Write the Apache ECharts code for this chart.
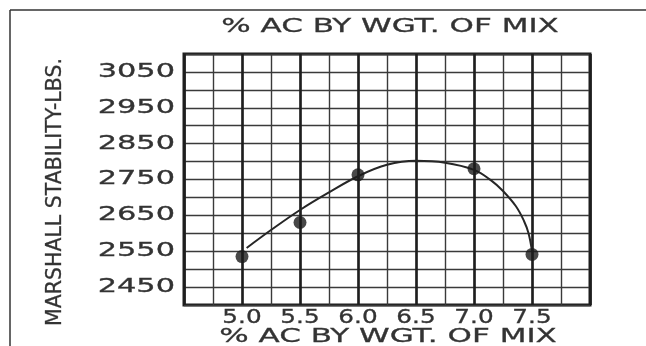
<!DOCTYPE html>
<html><head><meta charset="utf-8">
<script src="https://cdn.jsdelivr.net/npm/echarts@6/dist/echarts.min.js"></script>
<style>html,body{margin:0;padding:0;background:#fff}#c{width:646px;height:346px}</style>
</head><body><div id="c"></div>
<script>
const xTickValues = [5.0, 5.5, 6.0, 6.5, 7.0, 7.5];
const xTickLabels = ['5.0', '5.5', '6.0', '6.5', '7.0', '7.5'];
const yTickValues = [2450, 2550, 2650, 2750, 2850, 2950, 3050];
const yTickLabels = ['2450', '2550', '2650', '2750', '2850', '2950', '3050'];
const pointX = [5.0, 5.5, 6.0, 7.0, 7.5];
const pointY = [2535, 2630, 2763, 2780, 2541];
const curveX = [5.04, 5.25, 5.5, 5.75, 6.0, 6.25, 6.5, 6.75, 7.0, 7.15, 7.25, 7.36, 7.43, 7.47, 7.5];
const curveY = [2559, 2609, 2665, 2714, 2759, 2791, 2802, 2797, 2777, 2747, 2718, 2676, 2635, 2600, 2550];
const xTitle = '% AC BY WGT. OF MIX';
const yTitle = 'MARSHALL STABILITY-LBS.';

const INK = '#262626';
const TEXT = '#333333';
const FONT = 'DejaVu Sans';
const chart = echarts.init(document.getElementById('c'), null, {renderer: 'canvas'});

const option = {
  backgroundColor: '#ffffff',
  animation: false,
  grid: {left: 184, top: 54, width: 406, height: 251, show: true, borderColor: '#1e1e1e', borderWidth: 3, backgroundColor: 'transparent'},
  xAxis: [
    {type: 'value', min: 4.5, max: 8.0, interval: 0.25,
     axisLine: {show: false}, axisTick: {show: false}, axisLabel: {show: false},
     splitLine: {show: true, lineStyle: {color: '#3a3a3a', width: 1.4}}},
    {type: 'value', min: 4.5, max: 8.0, interval: 0.5,
     axisLine: {show: false}, axisTick: {show: false}, axisLabel: {show: false},
     splitLine: {show: true, lineStyle: {color: '#1e1e1e', width: 2.6}}}
  ],
  yAxis: {type: 'value', min: 2400, max: 3100, interval: 50,
    axisLine: {show: false}, axisTick: {show: false}, axisLabel: {show: false},
    splitLine: {show: true, lineStyle: {color: '#3a3a3a', width: 1.4}}},
  series: [
    {type: 'line', name: 'curve', xAxisIndex: 0, data: curveX.map((x, i) => [x, curveY[i]]),
     smooth: 0.4, showSymbol: false, symbol: 'none', lineStyle: {color: INK, width: 2}, z: 3},
    {type: 'scatter', name: 'points', xAxisIndex: 0, data: pointX.map((x, i) => [x, pointY[i]]),
     symbol: 'circle', symbolSize: 13, itemStyle: {color: '#1a1a1a'}, z: 4}
  ]
};
chart.setOption(option);

function txt(text, x, y, opts) {
  return Object.assign({type: 'text', x: x, y: y, silent: true, z: 10,
    style: Object.assign({text: text, fontSize: 19, fontFamily: FONT, fill: TEXT,
      stroke: TEXT, lineWidth: 0.3,
      align: 'center', verticalAlign: 'middle', textAlign: 'center', textVerticalAlign: 'middle'}, opts.style || {})},
    opts.el || {});
}

const g = [];
// frame lines of the scanned page
g.push({type: 'line', shape: {x1: 10, y1: 10, x2: 646, y2: 10}, style: {stroke: '#333', lineWidth: 1.5}, silent: true});
g.push({type: 'line', shape: {x1: 10, y1: 10, x2: 10, y2: 346}, style: {stroke: '#333', lineWidth: 1.5}, silent: true});

yTickValues.forEach((v, i) => {
  const p = chart.convertToPixel({gridIndex: 0}, [4.5, v]);
  g.push(txt(yTickLabels[i], 175, p[1], {el: {scaleX: 1.6}, style: {align: 'right', textAlign: 'right'}}));
});
xTickValues.forEach((v, i) => {
  const p = chart.convertToPixel({gridIndex: 0}, [v, 2400]);
  g.push(txt(xTickLabels[i], p[0], 318, {el: {scaleX: 1.3}, style: {}}));
});
g.push(txt(xTitle, 390, 27, {el: {scaleX: 1.55}, style: {fontSize: 20}}));
g.push(txt(xTitle, 388, 337, {el: {scaleX: 1.55}, style: {fontSize: 20}}));
g.push(txt(yTitle, 56, 192, {el: {rotation: Math.PI / 2}, style: {fontSize: 20.5}}));

chart.setOption({graphic: {elements: g}});
</script>
</body></html>
